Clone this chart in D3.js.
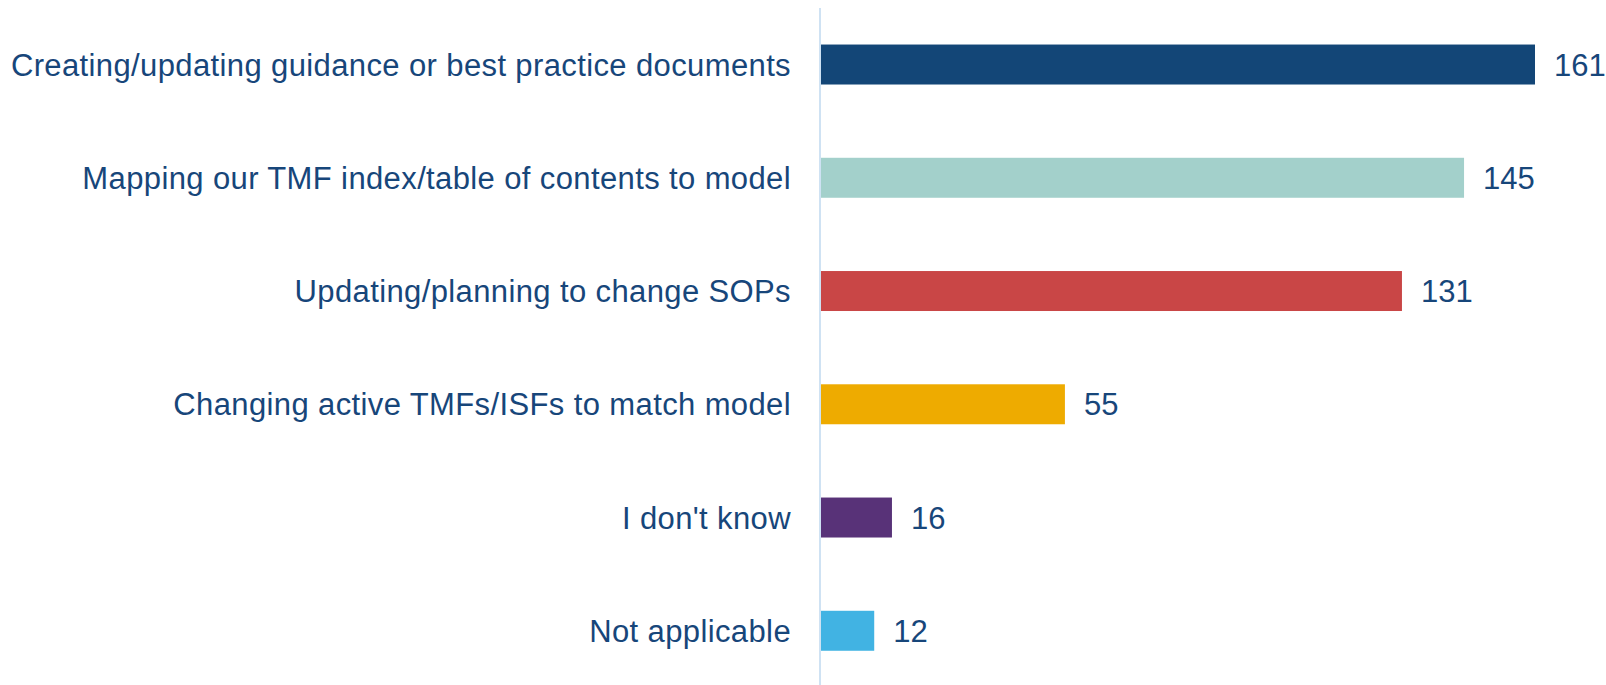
<!DOCTYPE html>
<html>
<head>
<meta charset="utf-8">
<script src="https://cdn.jsdelivr.net/npm/d3@7"></script>
<style>
  html, body { margin: 0; padding: 0; background: #ffffff; }
  svg { display: block; }
</style>
</head>
<body>
<svg id="chart" width="1606" height="685"></svg>
<script>
const categories = [
  "Creating/updating guidance or best practice documents",
  "Mapping our TMF index/table of contents to model",
  "Updating/planning to change SOPs",
  "Changing active TMFs/ISFs to match model",
  "I don't know",
  "Not applicable"
];
const values = [161, 145, 131, 55, 16, 12];
const colors = ["#134677", "#a3d0cb", "#c94646", "#eeab00", "#583278", "#41b3e3"];

const svg = d3.select("#chart");
const textColor = "#17467a";
const fontSize = 31;

const x = d3.scaleLinear().domain([0, 161]).range([821, 1535]);
const y = d3.scaleBand().domain(categories).range([7.9, 687.4]).paddingInner(0.647).paddingOuter(0.3235);

// axis line
svg.append("line")
  .attr("x1", 820).attr("x2", 820)
  .attr("y1", 8).attr("y2", 685)
  .attr("stroke", "#cfe2f3").attr("stroke-width", 2);

const data = categories.map((c, i) => ({c, v: values[i], col: colors[i]}));

svg.selectAll("rect.bar").data(data).enter().append("rect")
  .attr("class", "bar")
  .attr("x", x(0))
  .attr("y", d => y(d.c))
  .attr("width", d => x(d.v) - x(0))
  .attr("height", y.bandwidth())
  .attr("fill", d => d.col);

svg.selectAll("text.cat").data(data).enter().append("text")
  .attr("class", "cat")
  .attr("x", 791)
  .attr("y", d => y(d.c) + y.bandwidth() / 2 + 11)
  .attr("text-anchor", "end")
  .attr("font-family", "Liberation Sans, Arial, sans-serif")
  .attr("font-size", fontSize)
  .attr("letter-spacing", "0.38px")
  .attr("fill", textColor)
  .text(d => d.c);

svg.selectAll("text.val").data(data).enter().append("text")
  .attr("class", "val")
  .attr("x", d => x(d.v) + 19)
  .attr("y", d => y(d.c) + y.bandwidth() / 2 + 11)
  .attr("text-anchor", "start")
  .attr("font-family", "Liberation Sans, Arial, sans-serif")
  .attr("font-size", fontSize)
  .attr("fill", textColor)
  .text(d => d.v);
</script>
</body>
</html>
